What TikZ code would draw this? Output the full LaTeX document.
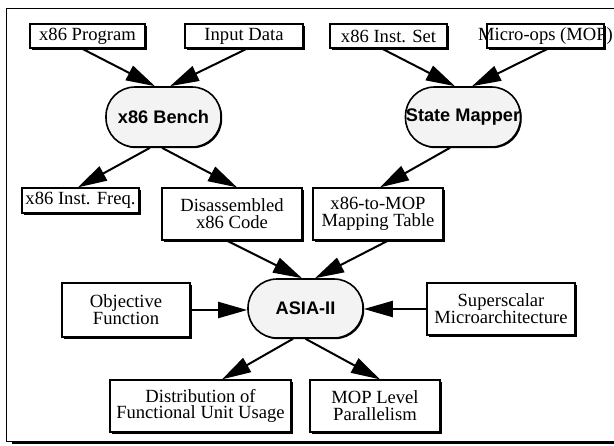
\documentclass[tikz,border=0pt]{standalone}
\usepackage{fontspec}
\setmainfont{Liberation Serif}
\newfontfamily\labelsans{Liberation Sans}
\usetikzlibrary{positioning, arrows.meta, calc, shadows}
\definecolor{shapefill}{RGB}{243,243,243}
\newcommand{\boxfont}{\fontsize{9.3}{8.4}\selectfont\lineskiplimit=-5pt\relax}

\begin{document}
\begin{tikzpicture}[
  x=0.5pt, y=-0.5pt,
  f/.style={draw, line width=0.65pt, fill=white, align=center, inner sep=0pt,
            minimum height=12pt, font=\boxfont,
            drop shadow={shadow xshift=0.8pt, shadow yshift=-0.8pt, opacity=1, fill=black}},
  ff/.style={f, minimum height=26pt},
  proc/.style={draw, line width=0.8pt, rounded corners=14.5pt, fill=shapefill,
            inner sep=0pt, minimum width=57.5pt, minimum height=30pt,
            font=\labelsans\bfseries\fontsize{9.1}{10}\selectfont,
            drop shadow={shadow xshift=0.6pt, shadow yshift=-0.6pt, opacity=1, fill=black}},
  arrow/.style={-{Triangle[length=14.5pt, width=8pt]}, line width=1pt}
]
  \useasboundingbox (0,0) rectangle (614,445);
  \clip (0,0) rectangle (614,445);
  % outer frame
  \fill (12,441) rectangle (640,444);
  \draw[line width=0.5pt] (640,8) -| (6.5,441) -- (640,441);

  % inputs
  \node[f, minimum width=57.5pt] (prog) at (87.5,36) {x86 Program};
  \node[f, minimum width=59pt] (input) at (244,36) {Input Data};
  \node[f, minimum width=58.5pt] (instset) at (388.5,36) {x86 Inst. Set};
  \node[f, minimum width=58.5pt] (microops) at (545.5,36) {\makebox[58.5pt]{Micro-ops (MOP)}};

  % tools
  \node[proc] (bench) at (163.5,117) {x86 Bench};
  \node[proc] (mapper) at (463,117) {\makebox[57.5pt]{State Mapper}};

  % intermediate results
  \node[f, minimum width=58.5pt, minimum height=12.5pt] (freq) at (80.5,200.5) {x86 Inst. Freq.};
  \node[ff, minimum width=70pt] (disasm) at (232,214) {Disassembled\\x86 Code};
  \node[ff, minimum width=65pt] (mopmap) at (378,214) {x86-to-MOP\\Mapping Table};

  % scheduler
  \node[proc, minimum height=29.5pt] (asia) at (305.5,308.5) {ASIA-II};
  \node[ff, minimum width=64pt, minimum height=27pt] (objective) at (126,310) {Objective\\Function};
  \node[ff, minimum width=74pt] (superscalar) at (501,309) {Superscalar\\Microarchitecture};

  % outputs
  \node[ff, minimum width=90.5pt] (distrib) at (200.5,406) {Distribution of\\Functional Unit Usage};
  \node[ff, minimum width=65pt] (moplevel) at (375,406) {MOP Level\\Parallelism};

  \draw[arrow] ([xshift=-2.75pt]prog.south) -- ([xshift=-4.25pt]bench.north);
  \draw[arrow] ([xshift=1.5pt]input.south) -- ([xshift=3.25pt]bench.north);
  \draw[arrow] ([xshift=-3.25pt]instset.south) -- ([xshift=-4pt]mapper.north);
  \draw[arrow] ([xshift=1.25pt]microops.south) -- ([xshift=4.5pt]mapper.north);
  \draw[arrow] ([xshift=-6.75pt]bench.south) -- ([xshift=-1.25pt]freq.north);
  \draw[arrow] ([xshift=-0.75pt]bench.south) -- ([xshift=2.5pt]disasm.north);
  \draw[arrow] ([xshift=-6.5pt]mapper.south) -- ([xshift=1pt]mopmap.north);
  \draw[arrow] ([xshift=-2.5pt]disasm.south) -- ([xshift=-1.75pt]asia.north);
  \draw[arrow] ([xshift=5pt]mopmap.south) -- ([xshift=4.75pt]asia.north);
  \draw[arrow] (objective.east) -- (objective.east -| asia.west);
  \draw[arrow] (superscalar.west) -- (superscalar.west -| asia.east);
  \draw[arrow] ([xshift=-6.25pt]asia.south) -- ([xshift=10.75pt]distrib.north);
  \draw[arrow] (asia.south) -- ([xshift=2.5pt]moplevel.north);
\end{tikzpicture}
\end{document}
